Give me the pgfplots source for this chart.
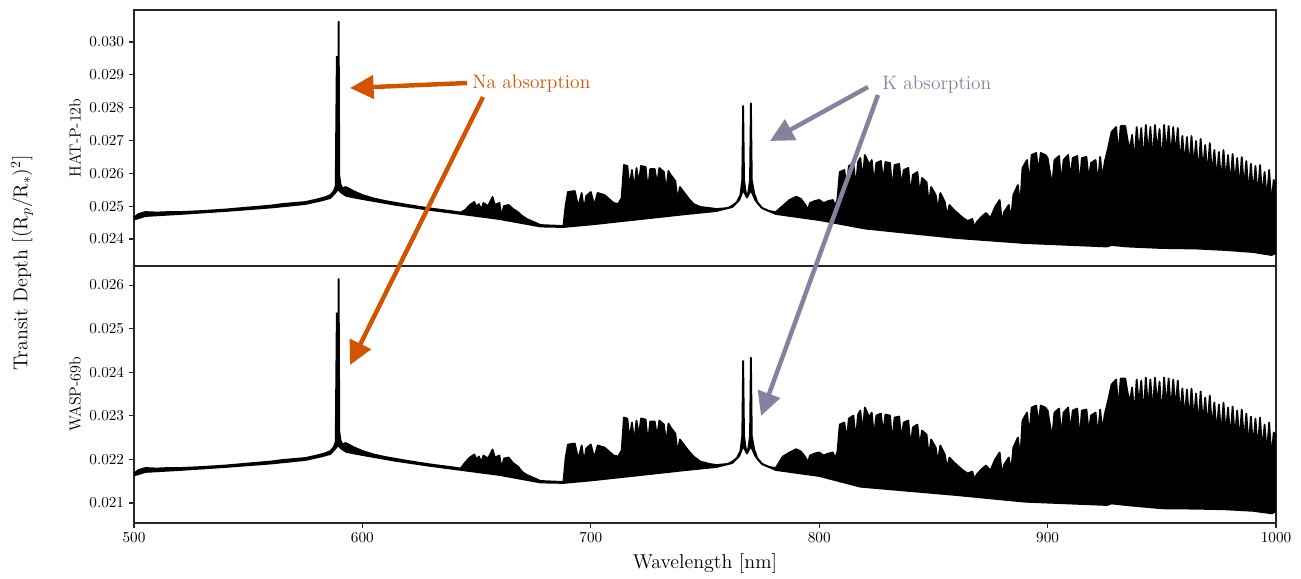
\documentclass[border=0pt]{standalone}
\usepackage{pgfplots}
\pgfplotsset{compat=1.18}
\usepackage{pgfplotstable}
\usepgfplotslibrary{fillbetween}
\usetikzlibrary{arrows.meta}
\definecolor{naorange}{RGB}{211,84,0}
\definecolor{kpurple}{RGB}{137,128,160}

% HAT-P-12b upper envelope
\pgfplotstableread{
x y
500 0.024654
502 0.024761
505 0.024821
510 0.024806
515 0.024821
520 0.024821
530 0.024852
540 0.024898
550 0.024959
555 0.024989
560 0.025019
565 0.025065
570 0.025096
575 0.025126
580 0.025202
584 0.025278
586 0.025339
587.5 0.025461
588.3 0.025613
588.8 0.029552
589.0 0.025918
589.3 0.026040
589.6 0.030618
589.9 0.025918
590.5 0.025644
591.5 0.025522
592.5 0.025583
594 0.025537
596 0.025461
600 0.025339
605 0.025233
610 0.025157
620 0.025035
630 0.024928
640 0.024837
643 0.024806
645 0.024882
647 0.025035
649 0.025126
650 0.024974
651 0.025065
652 0.024882
653 0.025096
655 0.025004
657 0.025278
658 0.025035
660 0.025096
660.9 0.024694
662 0.025004
664 0.025035
666 0.024913
668 0.024821
670 0.024700
672 0.024608
675 0.024517
678 0.024425
688 0.024395
689 0.025035
690 0.025431
693 0.025461
694.5 0.024973
696 0.025400
697 0.024882
698 0.025309
700 0.025431
701.5 0.025020
703 0.025400
706 0.025339
708 0.025217
710 0.025096
712 0.025065
713.5 0.025248
714.5 0.026253
716 0.026223
717 0.025560
718 0.026101
719 0.025492
720 0.026162
721 0.025690
722 0.026223
724 0.026192
725 0.025460
726 0.026131
728 0.026131
729 0.025650
730 0.026162
732 0.026040
733 0.025450
734 0.026070
735 0.025949
737 0.025766
738 0.025170
739 0.025583
741 0.025400
743 0.025217
745 0.025065
748 0.024974
752 0.024943
755 0.024913
760 0.024943
762 0.025019
764 0.025126
765.5 0.025339
766.3 0.025796
766.7 0.028050
767.1 0.025796
767.8 0.025431
768.4 0.025288
769.0 0.025431
769.7 0.025796
770.1 0.028132
770.5 0.025796
771.5 0.025400
773 0.025096
775 0.024943
778 0.024852
781 0.024821
784 0.025004
787 0.025187
790 0.025288
792 0.025217
794 0.025035
795 0.024882
796 0.025096
798 0.025157
800 0.025187
802 0.025096
804 0.025157
806 0.025187
807 0.025004
808 0.025217
809 0.026040
811 0.026101
812 0.025560
813 0.026223
815 0.026314
816 0.025530
817 0.026344
818 0.026466
819 0.025796
820 0.026558
822 0.026253
823 0.026405
824 0.025660
825 0.026314
827 0.026375
828 0.025760
829 0.026344
831 0.026314
832 0.025480
833 0.026253
835 0.026284
836 0.025590
837 0.026101
839 0.026162
840 0.025350
841 0.025949
843 0.026040
844 0.025350
845 0.025857
847 0.025735
848 0.025060
849 0.025583
851 0.025339
852 0.024870
853 0.025400
855 0.025126
856 0.024680
857 0.025035
859 0.024882
861 0.024761
863 0.024639
865 0.024547
867 0.024608
868 0.024360
869 0.024517
871 0.024669
873 0.024791
875 0.024639
877 0.024974
879 0.025187
880 0.024500
881 0.024821
883 0.025035
884 0.024590
885 0.025339
887 0.025644
888 0.025000
889 0.026162
891 0.026405
892 0.025680
893 0.026558
895 0.026619
896 0.026020
897 0.026619
899 0.026558
900 0.026466
901 0.026040
902 0.025620
903 0.026405
905 0.026527
906 0.025670
907 0.026405
909 0.026558
910 0.025810
911 0.026466
913 0.026527
914 0.025600
915 0.026466
917 0.026497
918 0.025810
919 0.026314
921 0.026405
922 0.025650
923 0.026497
924 0.025820
925 0.026344
926.5 0.026771
928 0.027258
930 0.027411
931 0.026530
932 0.027441
934 0.027441
935 0.027015
936 0.026710
937 0.027167
938 0.026290
939 0.027411
940 0.026600
941 0.027380
942 0.026230
943 0.027472
944 0.026540
945 0.027411
946 0.026340
947 0.027472
948 0.026610
949 0.027350
950 0.026210
951 0.027472
952 0.026560
953 0.027441
954 0.026430
955 0.027411
956 0.026500
957 0.027380
958 0.026260
959 0.027136
960 0.026220
961 0.027106
962 0.026120
963 0.027136
964 0.026160
965 0.026984
966 0.025910
967 0.027045
968 0.026050
969 0.026862
970 0.025890
971 0.026923
972 0.025920
973 0.026710
974 0.025780
975 0.026649
976 0.025680
977 0.026710
978 0.025730
979 0.026558
980 0.025570
981 0.026588
982 0.025630
983 0.026466
984 0.025480
985 0.026497
986 0.025540
987 0.026375
988 0.025330
989 0.026284
990 0.025350
991 0.026223
992 0.025240
993 0.026253
994 0.025250
995 0.026040
996 0.025170
997 0.026101
998 0.025050
999 0.025796
1000 0.025705
}\topup

% HAT-P-12b lower envelope
\pgfplotstableread{
x y
500 0.024593
505 0.024700
520 0.024761
540 0.024852
560 0.024959
575 0.025065
582 0.025172
586 0.025248
588 0.025400
589 0.025492
589.6 0.025492
591 0.025400
593 0.025309
600 0.025217
615 0.025035
630 0.024882
640 0.024791
660 0.024608
678 0.024380
688 0.024365
700 0.024441
720 0.024593
740 0.024745
755 0.024852
762 0.024974
765 0.025187
766.7 0.025492
768.4 0.025263
770.1 0.025492
772 0.025187
775 0.024943
781 0.024761
800 0.024578
820 0.024319
860 0.024030
890 0.023877
926 0.023771
928 0.023816
935 0.023771
950 0.023725
965 0.023710
978 0.023664
990 0.023603
998 0.023512
1000 0.023573
}\toplo

% WASP-69b upper envelope
\pgfplotstableread{
x y
500 0.021677
502 0.021757
505 0.021803
510 0.021791
515 0.021803
520 0.021803
530 0.021826
540 0.021860
550 0.021906
555 0.021929
560 0.021952
565 0.021986
570 0.022009
575 0.022032
580 0.022089
584 0.022147
586 0.022193
587.5 0.022284
588.3 0.022399
588.8 0.025351
589.0 0.022628
589.3 0.022719
589.6 0.026138
589.9 0.022628
590.5 0.022422
591.5 0.022330
592.5 0.022376
594 0.022341
596 0.022284
600 0.022193
605 0.022112
610 0.022055
620 0.021963
630 0.021883
640 0.021815
643 0.021792
645 0.021929
647 0.022043
649 0.022112
650 0.021998
651 0.022066
652 0.021929
653 0.022089
655 0.022021
657 0.022227
658 0.022043
660 0.022089
660.9 0.021785
662 0.022021
664 0.022043
666 0.021912
668 0.021843
670 0.021712
672 0.021643
675 0.021574
678 0.021505
688 0.021483
689 0.022043
690 0.022341
693 0.022364
694.5 0.021996
696 0.022318
697 0.021929
698 0.022250
700 0.022341
701.5 0.022030
703 0.022318
706 0.022273
708 0.022181
710 0.022089
712 0.022066
713.5 0.022204
714.5 0.022960
716 0.022937
717 0.022440
718 0.022845
719 0.022387
720 0.022891
721 0.022530
722 0.022937
724 0.022914
725 0.022360
726 0.022868
728 0.022868
729 0.022500
730 0.022891
732 0.022799
733 0.022360
734 0.022822
735 0.022731
737 0.022593
738 0.022140
739 0.022456
741 0.022318
743 0.022181
745 0.022066
748 0.021950
752 0.021895
755 0.021872
760 0.021895
762 0.021952
764 0.022032
765.5 0.022193
766.3 0.022536
766.7 0.024257
767.1 0.022536
767.8 0.022261
768.4 0.022154
769.0 0.022261
769.7 0.022536
770.1 0.024333
770.5 0.022536
771.5 0.022238
773 0.022009
775 0.021895
778 0.021826
781 0.021803
784 0.022061
787 0.022158
790 0.022234
792 0.022181
794 0.022043
795 0.021929
796 0.022089
798 0.022135
800 0.022158
802 0.022089
804 0.022135
806 0.022158
807 0.022021
808 0.022181
809 0.022799
811 0.022845
812 0.022440
813 0.022937
815 0.023005
816 0.022420
817 0.023028
818 0.023120
819 0.022616
820 0.023189
822 0.022960
823 0.023074
824 0.022510
825 0.023005
827 0.023051
828 0.022590
829 0.023028
831 0.023005
832 0.022380
833 0.022960
835 0.022982
836 0.022460
837 0.022845
839 0.022891
840 0.022280
841 0.022731
843 0.022799
844 0.022280
845 0.022662
847 0.022570
848 0.022060
849 0.022456
851 0.022273
852 0.021920
853 0.022318
855 0.022112
856 0.021780
857 0.022043
859 0.021929
861 0.021837
863 0.021746
865 0.021677
867 0.021723
868 0.021540
869 0.021654
871 0.021768
873 0.021860
875 0.021746
877 0.021998
879 0.022158
880 0.021640
881 0.021883
883 0.022043
884 0.021710
885 0.022273
887 0.022502
888 0.022000
889 0.022891
891 0.023074
892 0.022530
893 0.023189
895 0.023235
896 0.022790
897 0.023235
899 0.023189
900 0.023120
901 0.022799
902 0.022490
903 0.023074
905 0.023166
906 0.022520
907 0.023074
909 0.023189
910 0.022620
911 0.023120
913 0.023166
914 0.022440
915 0.023120
917 0.023143
918 0.022620
919 0.023005
921 0.023074
922 0.022510
923 0.023143
924 0.022640
925 0.023028
926.5 0.023350
928 0.023717
930 0.023832
931 0.023140
932 0.023855
934 0.023855
935 0.023534
936 0.023305
937 0.023649
938 0.022990
939 0.023832
940 0.023220
941 0.023809
942 0.022940
943 0.023878
944 0.023150
945 0.023832
946 0.023050
947 0.023878
948 0.023230
949 0.023786
950 0.022930
951 0.023878
952 0.023170
953 0.023855
954 0.023090
955 0.023832
956 0.023120
957 0.023809
958 0.022970
959 0.023626
960 0.022910
961 0.023603
962 0.022860
963 0.023626
964 0.022870
965 0.023511
966 0.022730
967 0.023557
968 0.022790
969 0.023419
970 0.022690
971 0.023465
972 0.022690
973 0.023305
974 0.022580
975 0.023259
976 0.022530
977 0.023305
978 0.022550
979 0.023189
980 0.022450
981 0.023212
982 0.022470
983 0.023120
984 0.022380
985 0.023143
986 0.022400
987 0.023051
988 0.022270
989 0.022982
990 0.022260
991 0.022937
992 0.022200
993 0.022960
994 0.022180
995 0.022799
996 0.022120
997 0.022845
998 0.022030
999 0.022616
1000 0.022547
}\botup

% WASP-69b lower envelope
\pgfplotstableread{
x y
500 0.021631
505 0.021712
520 0.021757
540 0.021826
560 0.021906
575 0.021986
582 0.022067
586 0.022124
588 0.022238
589 0.022307
589.6 0.022307
591 0.022238
593 0.022170
600 0.022101
615 0.021963
630 0.021849
640 0.021780
660 0.021643
678 0.021471
688 0.021460
700 0.021517
720 0.021631
740 0.021746
755 0.021826
762 0.021918
765 0.022078
766.7 0.022307
768.4 0.022135
770.1 0.022307
772 0.022078
775 0.021895
781 0.021757
800 0.021620
818 0.021374
860 0.021183
890 0.021030
926 0.020954
928 0.020990
935 0.020950
950 0.020878
965 0.020870
978 0.020855
990 0.020820
998 0.020764
1000 0.020800
}\botlo

\pgfplotsset{
  panel/.style={
    scale only axis, width=822.24pt, clip=false,
    xmin=500, xmax=1000,
    axis line style={black!85, line width=0.75pt},
    major tick style={black!85, line width=0.75pt},
    tick align=outside, major tick length=3.6pt,
    ytick pos=left,
    tick label style={font=\fontsize{11}{13}\selectfont},
    yticklabel style={/pgf/number format/.cd, fixed, fixed zerofill, precision=3},
    xticklabel style={/pgf/number format/1000 sep={}},
    scaled y ticks=false,
  },
  spec/.style={black, line width=1.3pt, line join=round},
}

\begin{document}
\begin{tikzpicture}
\begin{axis}[panel, name=top, height=184.32pt,
  ymin=0.023177, ymax=0.030975,
  ytick={0.024,0.025,0.026,0.027,0.028,0.029,0.030},
  xtick=\empty]
  \addplot[spec, name path=tu] table {\topup};
  \addplot[spec, name path=tl] table {\toplo};
  \addplot[black] fill between[of=tu and tl];
  \node[rotate=90, font=\fontsize{11.5}{14}\selectfont] at (rel axis cs:-0.05166,0.5) {HAT-P-12b};
  \node[rotate=90, font=\fontsize{14.4}{17}\selectfont] at (rel axis cs:-0.09807,0.0117) {Transit Depth $[(\mathrm{R}_p/\mathrm{R}_*)^2]$};
  \node[anchor=west, inner sep=0pt, text=naorange, font=\fontsize{14}{17}\selectfont] at (rel axis cs:0.29597,0.71094) {Na absorption};
  \node[anchor=west, inner sep=0pt, text=kpurple, font=\fontsize{14}{17}\selectfont] at (rel axis cs:0.65499,0.70703) {K absorption};
  \coordinate (bbl) at (rel axis cs:-0.11734,-1.21875);
  \coordinate (btr) at (rel axis cs:1.02189,1.03906);
  \coordinate (na1t) at (rel axis cs:0.29159,0.71484);
  \coordinate (na1h) at (rel axis cs:0.18914,0.69531);
  \coordinate (na2t) at (rel axis cs:0.30560,0.66016);
  \coordinate (na2h) at (rel axis cs:0.18914,-0.38672);
  \coordinate (k1t) at (rel axis cs:0.64273,0.69922);
  \coordinate (k1h) at (rel axis cs:0.55692,0.48828);
  \coordinate (k2t) at (rel axis cs:0.65149,0.66797);
  \coordinate (k2h) at (rel axis cs:0.54904,-0.58594);
\end{axis}
\begin{axis}[panel, at={(top.south west)}, anchor=north west, height=185.04pt,
  ymin=0.020541, ymax=0.026436,
  ytick={0.021,0.022,0.023,0.024,0.025,0.026},
  xtick={500,600,700,800,900,1000}, xtick pos=lower]
  \addplot[spec, name path=bu] table {\botup};
  \addplot[spec, name path=bl] table {\botlo};
  \addplot[black] fill between[of=bu and bl];
  \node[rotate=90, font=\fontsize{11.5}{14}\selectfont] at (rel axis cs:-0.05166,0.5) {WASP-69b};
  \node[font=\fontsize{14.4}{17}\selectfont] at (rel axis cs:0.5,-0.1556) {Wavelength [nm]};
\end{axis}
\draw[naorange, line width=3.2pt, -{Triangle[length=17pt,width=16.5pt]}] (na1t) -- (na1h);
\draw[naorange, line width=3.2pt, -{Triangle[length=17pt,width=16.5pt]}] (na2t) -- (na2h);
\draw[kpurple, line width=3.2pt, -{Triangle[length=17pt,width=16.5pt]}] (k1t) -- (k1h);
\draw[kpurple, line width=3.2pt, -{Triangle[length=17pt,width=16.5pt]}] (k2t) -- (k2h);
\pgfresetboundingbox
\path[use as bounding box] (bbl) rectangle (btr);
\end{tikzpicture}
\end{document}
